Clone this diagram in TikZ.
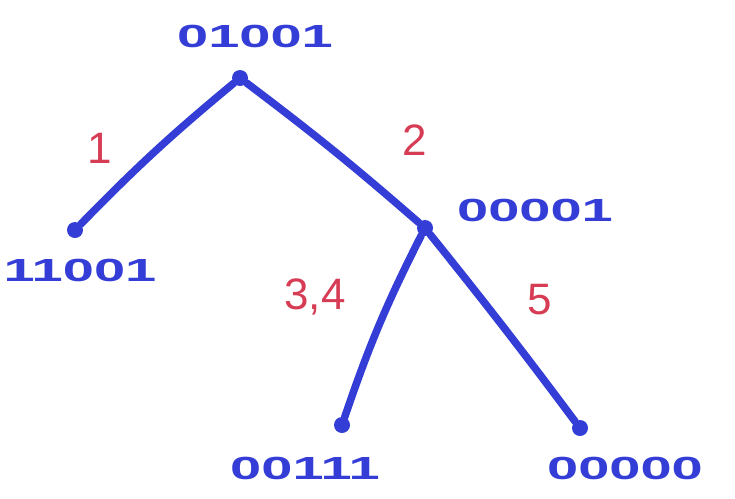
\documentclass[tikz,border=0pt]{standalone}
\usepackage{fontspec}
\setmainfont{Liberation Sans}
\definecolor{pen}{RGB}{52,62,215}
\definecolor{ink}{RGB}{215,60,85}
\tikzset{
  vertex/.style={circle,fill=pen,inner sep=0pt,minimum size=16pt},
  edge/.style={draw=pen,line width=7.5pt,line cap=round,line join=round},
  code/.style={text=pen,font=\fontsize{32}{32}\selectfont\bfseries,xscale=1.75,inner sep=0pt},
  weight/.style={text=ink,font=\fontsize{44}{44}\selectfont,inner sep=0pt}
}
\begin{document}
\begin{tikzpicture}[x=1pt,y=-1pt]
\useasboundingbox (0,0) rectangle (735,498);
\node[vertex] (r) at (240,78) {};
\node[vertex] (a) at (75,230) {};
\node[vertex] (m) at (425,228) {};
\node[vertex] (b) at (342,425) {};
\node[vertex] (c) at (580,428) {};
\draw[edge] (r) to[bend right=3] (a);
\draw[edge] (r) to[bend left=2] (m);
\draw[edge] (m) to[bend right=4] (b);
\draw[edge] (m) to[bend left=1] (c);
\node[code] (lr) at (255,36) {01001};
\node[code] (la) at (80,270) {11001};
\node[code] (lm) at (535,210) {00001};
\node[code] (lb) at (305,468) {00111};
\node[code] (lc) at (625,468) {00000};
\node[weight] (w1) at (100,148) {1};
\node[weight] (w2) at (415,140) {2};
\node[weight] (w3) at (315,297) {3,4};
\node[weight] (w5) at (540,300) {5};
\end{tikzpicture}
\end{document}
